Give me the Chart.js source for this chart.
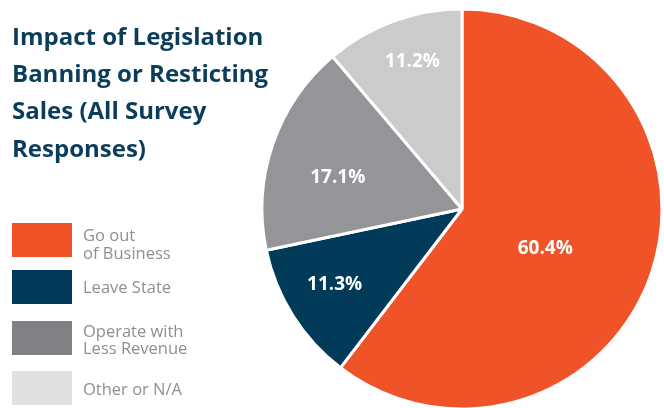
<!DOCTYPE html>
<html>
<head>
<meta charset="utf-8">
<script src="https://cdn.jsdelivr.net/npm/chart.js@4/dist/chart.umd.min.js"></script>
<style>
  body { margin: 0; background: #fff; }
  #wrap { position: relative; width: 664px; height: 408px; }
</style>
</head>
<body>
<div id="wrap"><canvas id="pie_chart" width="664" height="408"></canvas></div>
<script>
// chart data
var titleLines = ['Impact of Legislation', 'Banning or Resticting', 'Sales (All Survey', 'Responses)'];
var categories = [['Go out', 'of Business'], ['Leave State'], ['Operate with', 'Less Revenue'], ['Other or N/A']];
var shares = [60.4, 11.3, 17.1, 11.2];
var sliceColors = ['#F05327', '#023A5A', '#949599', '#CBCBCB'];
var legendColors = ['#F05327', '#023A5A', '#808185', '#E0E0E0'];

// where the % labels sit: fraction of the radius, fraction across the slice angle
var labelRadius = [0.46, 0.74, 0.64, 0.78];
var labelAngle = [0.53, 0.54, 0.42, 0.54];

const ctx = document.getElementById('pie_chart').getContext('2d');

// title + legend drawn on the left side of the canvas
const sidePanel = {
  id: 'sidePanel',
  afterDraw(chart) {
    const c = chart.ctx;
    c.save();
    c.textAlign = 'left';
    c.textBaseline = 'alphabetic';
    c.fillStyle = '#0B3D5B';
    c.font = 'bold 24px "Open Sans"';
    titleLines.forEach((t, i) => c.fillText(t, 12, 45 + i * 37.2));

    const boxY = [223, 270, 321, 371];
    const textY = [[241, 259], [293], [337, 354], [395]];
    c.font = '16.5px "Open Sans"';
    categories.forEach((lbl, i) => {
      c.fillStyle = legendColors[i];
      c.fillRect(12, boxY[i], 60, 34);
      c.fillStyle = '#8E8F93';
      lbl.forEach((line, j) => c.fillText(line, 83, textY[i][j]));
    });
    c.restore();
  }
};

// percentage labels inside slices
const sliceLabels = {
  id: 'sliceLabels',
  afterDatasetsDraw(chart) {
    const c = chart.ctx;
    const meta = chart.getDatasetMeta(0);
    c.save();
    c.fillStyle = '#fff';
    c.font = 'bold 19px "Open Sans"';
    c.textAlign = 'center';
    c.textBaseline = 'middle';
    meta.data.forEach((arc, i) => {
      const p = arc.getProps(['x', 'y', 'startAngle', 'endAngle', 'outerRadius']);
      const a = p.startAngle + (p.endAngle - p.startAngle) * labelAngle[i];
      const r = p.outerRadius * labelRadius[i];
      c.fillText(shares[i].toFixed(1) + '%', p.x + Math.cos(a) * r, p.y + Math.sin(a) * r);
    });
    c.restore();
  }
};

new Chart(ctx, {
  type: 'pie',
  data: {
    labels: categories.map(l => l.join(' ')),
    datasets: [{
      data: shares,
      backgroundColor: sliceColors,
      borderColor: '#fff',
      borderWidth: 3
    }]
  },
  options: {
    responsive: false,
    animation: false,
    radius: 200,
    layout: { padding: { left: 263, right: 3, top: 10, bottom: 0 } },
    plugins: {
      legend: { display: false },
      tooltip: { enabled: false }
    }
  },
  plugins: [sidePanel, sliceLabels]
});
</script>
</body>
</html>
